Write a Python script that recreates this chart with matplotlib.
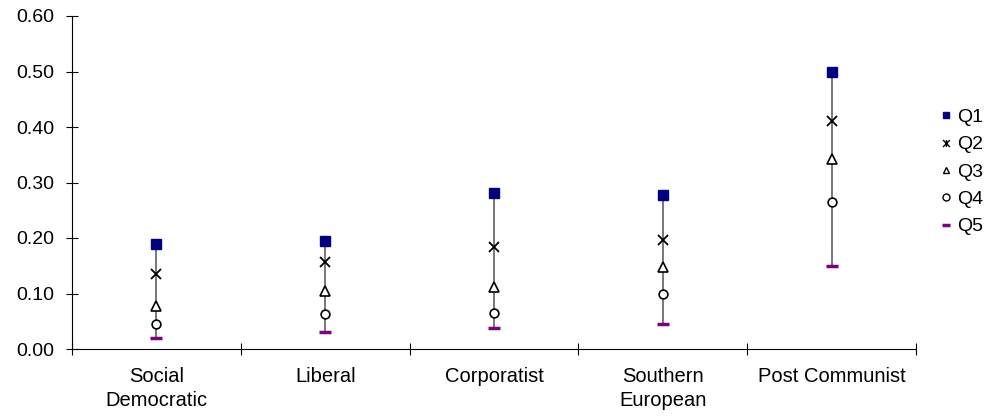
import matplotlib.pyplot as plt
import numpy as np
from matplotlib.path import Path
from matplotlib.lines import Line2D

plt.rcParams["font.family"] = ["Liberation Sans", "DejaVu Sans"]
plt.rcParams["font.size"] = 14

# regime types and the five quintile values
categories = ["Social\nDemocratic", "Liberal", "Corporatist", "Southern\nEuropean", "Post Communist"]
q1 = [0.190, 0.195, 0.281, 0.278, 0.500]
q2 = [0.135, 0.157, 0.184, 0.196, 0.411]
q3 = [0.077, 0.105, 0.111, 0.148, 0.342]
q4 = [0.045, 0.063, 0.065, 0.099, 0.264]
q5 = [0.020, 0.031, 0.037, 0.045, 0.150]
yticks = [0.0, 0.1, 0.2, 0.3, 0.4, 0.5, 0.6]

# excel style star: x with a vertical bar
star = Path(
    [(-1, -1), (1, 1), (-1, 1), (1, -1), (0, -1), (0, 1)],
    [Path.MOVETO, Path.LINETO, Path.MOVETO, Path.LINETO, Path.MOVETO, Path.LINETO],
)

fig = plt.figure(figsize=(9.94, 4.17), dpi=100)
ax = fig.add_axes([72 / 994, (417 - 349) / 417, 844 / 994, 333 / 417])

xs = np.arange(len(categories))

# high-low lines
ax.vlines(xs, q5, q1, colors="#606060", lw=1.2, zorder=1)

ax.plot(xs, q1, ls="none", marker="s", ms=7, mfc="#000080", mec="#000080", zorder=3)
ax.plot(xs, q2, ls="none", marker="x", ms=7, mec="black", mew=1.3, zorder=3)
ax.plot(xs, q3, ls="none", marker="^", ms=7, mfc="white", mec="black", mew=1.2, zorder=3)
ax.plot(xs, q4, ls="none", marker="o", ms=6.3, mfc="white", mec="black", mew=1.2, zorder=3)
ax.plot(xs, q5, ls="none", marker="_", ms=8, mec="#800080", mew=2.5, zorder=3)

ax.set_xlim(-0.5, len(categories) - 0.5)
ax.set_ylim(0, 0.6)
ax.set_yticks(yticks)
ax.set_yticklabels([f"{v:.2f}" for v in yticks])

ax.set_xticks(np.arange(len(categories) + 1) - 0.5)
ax.set_xticklabels([])
ax.set_xticks(xs, minor=True)
ax.set_xticklabels(categories, minor=True, linespacing=1.3)
ax.tick_params(axis="both", which="major", direction="inout", length=8.5, width=0.8, colors="black")
ax.tick_params(axis="x", which="minor", length=0, pad=13, labelsize=14.5)
ax.tick_params(axis="y", pad=8.5)

for s in ["top", "right"]:
    ax.spines[s].set_visible(False)
for s in ["left", "bottom"]:
    ax.spines[s].set_linewidth(0.8)

handles = [
    Line2D([], [], ls="none", marker="s", ms=5, mfc="#000080", mec="#000080"),
    Line2D([], [], ls="none", marker=star, ms=5, mec="black", mew=1),
    Line2D([], [], ls="none", marker="^", ms=5, mfc="white", mec="black", mew=1),
    Line2D([], [], ls="none", marker="o", ms=5, mfc="white", mec="black", mew=1),
    Line2D([], [], ls="none", marker="_", ms=6, mec="#800080", mew=2.5),
]
fig.legend(handles, ["Q1", "Q2", "Q3", "Q4", "Q5"], loc="center left",
           bbox_to_anchor=(931 / 994, (417 - 172) / 417), frameon=False,
           handlelength=0.5, handletextpad=0.35, labelspacing=0.5, borderpad=0,
           fontsize=14)

fig.savefig("out.png", dpi=100)
